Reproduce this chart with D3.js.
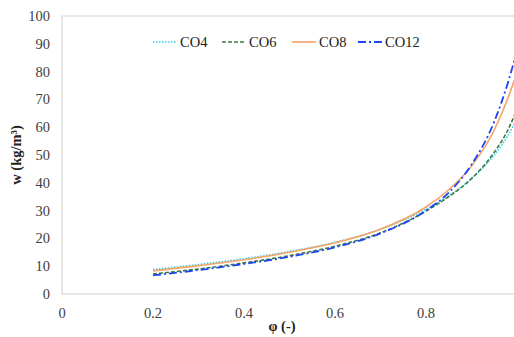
<!DOCTYPE html>
<html>
<head>
<meta charset="utf-8">
<script src="https://cdn.jsdelivr.net/npm/d3@7"></script>
<style>
  body { margin: 0; background: #fff; }
  svg { display: block; }
</style>
</head>
<body>
<div id="chart"></div>
<script>
// relative humidity values and water content per series
var phi  = [0.2, 0.3, 0.4, 0.5, 0.6, 0.7, 0.8, 0.85, 0.9, 0.95, 0.98, 1.0];
var co4  = [8.8, 10.6, 12.7, 15.3, 18.6, 23.3, 30.5, 35.3, 41.5, 50.0, 57.0, 63.0];
var co6  = [7.2, 9.0, 11.2, 13.8, 17.2, 22.0, 29.8, 35.0, 41.5, 51.0, 59.0, 66.5];
var co8  = [8.3, 10.2, 12.3, 15.0, 18.4, 23.3, 31.3, 37.5, 46.0, 59.0, 70.5, 79.5];
var co12 = [6.7, 8.6, 10.8, 13.4, 16.8, 21.8, 30.0, 36.5, 46.5, 62.0, 76.0, 87.5];
var names = ["CO4", "CO6", "CO8", "CO12"];
var xTicks = [0, 0.2, 0.4, 0.6, 0.8];
var yTicks = [0, 10, 20, 30, 40, 50, 60, 70, 80, 90, 100];

var series = [
  {name: names[0], values: co4,  color: "#2fd0ea", dash: "1.5,1.5", width: 1.6},
  {name: names[1], values: co6,  color: "#3f7a3f", dash: "4,2",     width: 1.6},
  {name: names[2], values: co8,  color: "#f7a263", dash: null,      width: 1.6},
  {name: names[3], values: co12, color: "#1f45f5", dash: "8,3,2,3", width: 1.8}
];

var W = 514, H = 337;
var mLeft = 62, mTop = 16, mRight = 517, mBottom = 294;

var svg = d3.select("#chart").append("svg")
  .attr("width", W).attr("height", H)
  .style("font-family", "'Liberation Serif', 'Times New Roman', serif");

var x = d3.scaleLinear().domain([0, 1]).range([mLeft, mRight]);
var y = d3.scaleLinear().domain([0, 100]).range([mBottom, mTop]);

// plot border
svg.append("rect")
  .attr("x", mLeft).attr("y", mTop)
  .attr("width", mRight - mLeft).attr("height", mBottom - mTop)
  .attr("fill", "none").attr("stroke", "#d9d9d9").attr("stroke-width", 1.2);

// y tick labels
svg.append("g").selectAll("text").data(yTicks).enter().append("text")
  .attr("x", 50).attr("y", function(d) { return y(d) + 5; })
  .attr("text-anchor", "end")
  .attr("font-size", 14.5).attr("fill", "#404040")
  .text(function(d) { return d; });

// x tick labels
svg.append("g").selectAll("text").data(xTicks).enter().append("text")
  .attr("x", function(d) { return x(d); }).attr("y", 318)
  .attr("text-anchor", "middle")
  .attr("font-size", 14.5).attr("fill", "#404040")
  .text(function(d) { return d; });

// axis titles
svg.append("text")
  .attr("transform", "translate(21,155) rotate(-90)")
  .attr("text-anchor", "middle")
  .attr("font-size", 14.5).attr("font-weight", "bold").attr("fill", "#222")
  .text("w (kg/m³)");

svg.append("text")
  .attr("x", 282).attr("y", 331)
  .attr("text-anchor", "middle")
  .attr("font-size", 14.5).attr("font-weight", "bold").attr("fill", "#222")
  .text("φ (-)");

// curves
var line = d3.line()
  .x(function(d, i) { return x(phi[i]); })
  .y(function(d) { return y(d); })
  .curve(d3.curveMonotoneX);

svg.append("g").selectAll("path").data(series).enter().append("path")
  .attr("d", function(s) { return line(s.values); })
  .attr("fill", "none")
  .attr("stroke", function(s) { return s.color; })
  .attr("stroke-width", function(s) { return s.width; })
  .attr("stroke-dasharray", function(s) { return s.dash; });

// legend
var legX = [153, 222, 292, 358];
var leg = svg.append("g").selectAll("g").data(series).enter().append("g")
  .attr("transform", function(s, i) { return "translate(" + legX[i] + ",42)"; });
leg.append("line")
  .attr("x1", 0).attr("x2", 24).attr("y1", 0).attr("y2", 0)
  .attr("stroke", function(s) { return s.color; })
  .attr("stroke-width", function(s) { return s.width; })
  .attr("stroke-dasharray", function(s) { return s.dash; });
leg.append("text")
  .attr("x", 27).attr("y", 5)
  .attr("font-size", 14.5).attr("fill", "#222")
  .text(function(s) { return s.name; });
</script>
</body>
</html>
